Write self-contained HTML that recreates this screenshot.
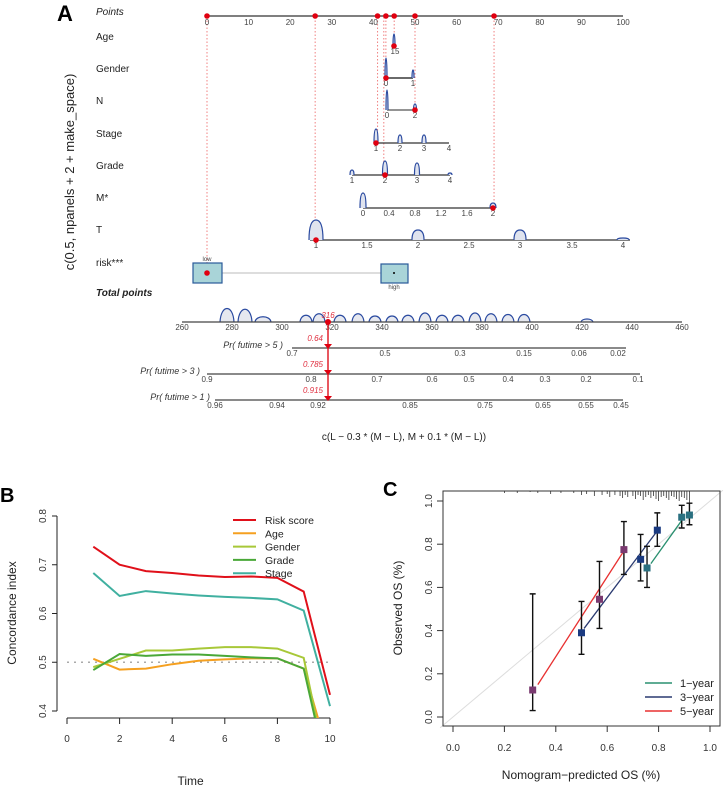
<!DOCTYPE html>
<html><head><meta charset="utf-8">
<style>
html,body{margin:0;padding:0;background:#fff;}
svg{display:block;font-family:"Liberation Sans",sans-serif;}
</style></head>
<body>
<svg id="fig" width="724" height="787" viewBox="0 0 724 787" xmlns="http://www.w3.org/2000/svg">
<defs>
<clipPath id="clipB"><rect x="57" y="500" width="290" height="218"/></clipPath>
</defs>
<g id="panelA"></g>
<g id="panelB"></g>
<g id="panelC"></g>
</svg>
<script>
// ---------- Panel B data ----------
const timeB = [1,2,3,4,5,6,7,8,9,10];
const riskScore = [0.737,0.700,0.687,0.683,0.678,0.675,0.676,0.673,0.645,0.433];
const ageC = [0.507,0.485,0.487,0.496,0.503,0.506,0.508,0.508,0.487,0.30];
const genderC = [0.490,0.507,0.524,0.524,0.528,0.531,0.531,0.528,0.509,0.25];
const gradeC = [0.484,0.517,0.513,0.516,0.516,0.513,0.510,0.508,0.487,0.25];
const stageC = [0.683,0.636,0.646,0.641,0.637,0.634,0.632,0.629,0.606,0.410];
const seriesNamesB = ["Risk score","Age","Gender","Grade","Stage"];
const xTicksB = [0,2,4,6,8,10];
const yTicksB = [0.4,0.5,0.6,0.7,0.8];

// ---------- Panel C data ----------
const pred1 = [0.755,0.89,0.92];
const obs1 = [0.69,0.925,0.935];
const lo1 = [0.60,0.875,0.89];
const hi1 = [0.79,0.98,0.99];
const pred3 = [0.50,0.73,0.795];
const obs3 = [0.39,0.73,0.865];
const lo3 = [0.29,0.63,0.79];
const hi3 = [0.535,0.845,0.945];
const pred5 = [0.31,0.57,0.665];
const obs5 = [0.125,0.545,0.775];
const lo5 = [0.03,0.41,0.66];
const hi5 = [0.57,0.72,0.905];
const fit1 = [[0.77,0.71],[0.89,0.91]];
const fit3 = [[0.51,0.41],[0.80,0.87]];
const fit5 = [[0.33,0.15],[0.66,0.76]];
const rugPred = [0.2,0.25,0.3,0.33,0.38,0.42,0.47,0.5,0.52,0.55,0.58,0.6,0.61,0.63,0.65,0.66,0.67,0.68,0.7,0.71,0.72,0.73,0.74,0.75,0.76,0.77,0.78,0.79,0.8,0.81,0.82,0.83,0.84,0.85,0.86,0.87,0.88,0.89,0.9,0.91,0.92];
const rugLen = [2,2,1,2,3,2,2,4,3,5,4,3,6,4,5,7,4,6,5,8,4,5,9,6,4,7,5,8,10,6,5,7,9,5,6,8,10,6,7,9,12];
const ticksC = [0,0.2,0.4,0.6,0.8,1.0];

// ---------- Panel A data ----------
const pointsTicks = [0,10,20,30,40,50,60,70,80,90,100];
const selectedPoints = [0,26,41,43,45,50,69];
const totalTicks = [260,280,300,320,340,360,380,400,420,440,460];
const totalValue = 316;

const NS = "http://www.w3.org/2000/svg";
function mk(parent, tag, attrs, txt){
  const e = document.createElementNS(NS, tag);
  for (const k in attrs) e.setAttribute(k, attrs[k]);
  if (txt !== undefined) e.textContent = txt;
  parent.appendChild(e);
  return e;
}

// ================= PANEL A =================
(function(){
  const g = document.getElementById('panelA');
  const px = p => 207 + p * 4.16;
  const tx = v => 182 + (v - 260) * 2.5;
  let el;
  el = mk(g,'text',{x:57,y:21,'font-size':22,'font-weight':'bold',fill:'#000'},'A');
  
  
  el = mk(g,'text',{x:0,y:0,'font-size':13,fill:'#222','text-anchor':'middle',transform:'translate(74,172) rotate(-90)'},'c(0.5, npanels + 2 + make_space)');
  
  
  const rows = [["Points",15,true,false],["Age",40],["Gender",72],["N",104],["Stage",137],["Grade",169],["M*",201],["T",233],["risk***",266],["Total points",296,false,true]];
  rows.forEach(r=>{
    const t = mk(g,'text',{x:96,y:r[1],'font-size':10,fill:'#222','font-style':(r[2]||r[3])?'italic':'normal','font-weight':r[3]?'bold':'normal'},r[0]);
    
    
  });
  const guides = [[0,270],[26,240],[41,143],[42.5,175],[43,78],[45,46],[50,110],[69,208]];
  guides.forEach(gd=>{
    const l = mk(g,'line',{x1:px(gd[0]),y1:17,x2:px(gd[0]),y2:gd[1],stroke:'#f08080','stroke-width':1,'stroke-dasharray':'1.5,2'});
    
    
  });
  el = mk(g,'line',{x1:px(0),y1:16,x2:px(100),y2:16,stroke:'#333','stroke-width':1.2});
  
  
  pointsTicks.forEach(p=>{
    const t = mk(g,'text',{x:px(p),y:25,'font-size':8,fill:'#444','text-anchor':'middle'},String(p));
    
    
  });
  selectedPoints.forEach(p=>{
    const c = mk(g,'circle',{cx:px(p),cy:16,r:2.8,fill:'#e00010'});
    
    
  });
  function axis(name,y,x1,x2,ticks,dens,col){
    const a = mk(g,'line',{x1:x1,y1:y,x2:x2,y2:y,stroke:col||'#333','stroke-width':1.2});
    
    
    ticks.forEach(tk=>{
      const t = mk(g,'text',{x:tk[0],y:y+8,'font-size':8,fill:'#444','text-anchor':'middle'},tk[1]);
      
      
    });
    dens.forEach(d=>{
      const p = mk(g,'path',{d:`M${d[0]-d[1]},${y} Q${d[0]-d[1]},${y-d[2]} ${d[0]},${y-d[2]} Q${d[0]+d[1]},${y-d[2]} ${d[0]+d[1]},${y}`,fill:'#dfe3ee',stroke:'#2a4aa0','stroke-width':1.2});
      
      
    });
  }
  axis('age',46,393,395,[[395,"15"]],[[394,1,12]]);
  axis('gender',78,386,413,[[386,"0"],[413,"1"]],[[386,1,20],[413,1,8]],'#111');
  axis('n',110,387,415,[[387,"0"],[415,"2"]],[[387,1,20],[415,1.5,6]],'#555');
  axis('stage',143,376,449,[[376,"1"],[400,"2"],[424,"3"],[449,"4"]],[[376,2,14],[400,2,8],[424,2,8]]);
  axis('grade',175,352,450,[[352,"1"],[385,"2"],[417,"3"],[450,"4"]],[[352,2,5],[385,2.5,14],[417,2.5,12],[450,2,2]]);
  axis('m',208,363,493,[[363,"0"],[389,"0.4"],[415,"0.8"],[441,"1.2"],[467,"1.6"],[493,"2"]],[[363,3,15],[493,3,5]]);
  axis('t',240,310,630,[[316,"1"],[367,"1.5"],[418,"2"],[469,"2.5"],[520,"3"],[572,"3.5"],[623,"4"]],[[316,7,20],[418,6,10],[520,6,10],[623,6,2]]);
  const pts = [[394,46],[386,78],[415,110],[376,143],[385,175],[493,208],[316,240]];
  pts.forEach(p=>{
    const c = mk(g,'circle',{cx:p[0],cy:p[1],r:2.8,fill:'#e00010'});
    
    
  });
  el = mk(g,'line',{x1:222,y1:273,x2:381,y2:273,stroke:'#bbb','stroke-width':1});
  
  
  el = mk(g,'rect',{x:193,y:263,width:29,height:20,fill:'#a9d4d8',stroke:'#2a5a9a','stroke-width':1.2});
  
  
  el = mk(g,'rect',{x:381,y:264,width:27,height:19,fill:'#a9d4d8',stroke:'#2a5a9a','stroke-width':1.2});
  
  
  el = mk(g,'circle',{cx:207,cy:273,r:2.8,fill:'#e00010'});
  
  
  el = mk(g,'circle',{cx:394,cy:273,r:1,fill:'#000'});
  
  
  el = mk(g,'text',{x:207,y:261,'font-size':6,fill:'#444','text-anchor':'middle'},'low');
  
  
  el = mk(g,'text',{x:394,y:289,'font-size':6,fill:'#444','text-anchor':'middle'},'high');
  
  
  const bumps = [[227,7,18],[245,7,17],[263,8,7],[306,6,9],[319,6,11],[340,6,9],[358,6,11],[375,6,8],[392,6,8],[408,6,9],[425,6,12],[442,6,9],[458,6,9],[475,6,12],[491,6,11],[508,6,10],[524,6,10],[587,6,4]];
  bumps.forEach(b=>{
    const p = mk(g,'path',{d:`M${b[0]-b[1]},322 C${b[0]-b[1]+1},${322-b[2]} ${b[0]+b[1]-1},${322-b[2]} ${b[0]+b[1]},322`,fill:'#e6e8ef',stroke:'#2a4aa0','stroke-width':1.2});
    
    
  });
  el = mk(g,'line',{x1:tx(260),y1:322,x2:tx(460),y2:322,stroke:'#444','stroke-width':1.2});
  
  
  totalTicks.forEach(v=>{
    const t = mk(g,'text',{x:tx(v),y:330,'font-size':8,fill:'#444','text-anchor':'middle'},String(v));
    
    
  });
  function prAxis(name,label,labX,y,x1,x2,ticks){
    const a = mk(g,'line',{x1:x1,y1:y,x2:x2,y2:y,stroke:'#444','stroke-width':1.2});
    
    
    const l = mk(g,'text',{x:labX,y:y,'font-size':9,fill:'#333','font-style':'italic','text-anchor':'end'},label);
    
    
    ticks.forEach(tk=>{
      const t = mk(g,'text',{x:tk[0],y:y+8,'font-size':8,fill:'#444','text-anchor':'middle'},tk[1]);
      
      
    });
  }
  prAxis('pr-5yr','Pr( futime > 5 )',283,348,292,626,[[292,"0.7"],[385,"0.5"],[460,"0.3"],[524,"0.15"],[579,"0.06"],[618,"0.02"]]);
  prAxis('pr-3yr','Pr( futime > 3 )',200,374,207,640,[[207,"0.9"],[311,"0.8"],[377,"0.7"],[432,"0.6"],[469,"0.5"],[508,"0.4"],[545,"0.3"],[586,"0.2"],[638,"0.1"]]);
  prAxis('pr-1yr','Pr( futime > 1 )',210,400,215,623,[[215,"0.96"],[277,"0.94"],[318,"0.92"],[410,"0.85"],[485,"0.75"],[543,"0.65"],[586,"0.55"],[621,"0.45"]]);
  const tX = tx(totalValue) + 6;
  el = mk(g,'line',{x1:tX,y1:322,x2:tX,y2:400,stroke:'#e0202a','stroke-width':1.5});
  
  
  el = mk(g,'circle',{cx:tX,cy:322,r:3,fill:'#e00010'});
  
  
  el = mk(g,'text',{x:tX,y:318,'font-size':8,fill:'#e03040','font-style':'italic','text-anchor':'middle'},String(totalValue));
  
  
  [[348,'0.64'],[374,'0.785'],[400,'0.915']].forEach(v=>{
    const tri = mk(g,'path',{d:`M${tX-4},${v[0]-4} L${tX+4},${v[0]-4} L${tX},${v[0]+1} Z`,fill:'#e00010'});
    
    
    const t = mk(g,'text',{x:tX-5,y:v[0]-7,'font-size':8,fill:'#e03040','font-style':'italic','text-anchor':'end'},v[1]);
    
    
  });
  el = mk(g,'text',{x:404,y:440,'font-size':10,fill:'#222','text-anchor':'middle'},'c(L \u2212 0.3 * (M \u2212 L), M + 0.1 * (M \u2212 L))');
  
  
})();

// ================= PANEL B =================
(function(){
  const g = document.getElementById('panelB');
  const xB = t => 67 + t * 26.3;
  const yB = v => 711 - (v - 0.4) * 487.5;
  let el;
  el = mk(g,'text',{x:0,y:502,'font-size':20,'font-weight':'bold',fill:'#000'},'B');
  
  
  el = mk(g,'line',{x1:57,y1:yB(0.8),x2:57,y2:yB(0.4),stroke:'#222','stroke-width':1});
  
  
  el = mk(g,'line',{x1:xB(0),y1:718,x2:xB(10),y2:718,stroke:'#222','stroke-width':1});
  
  
  yTicksB.forEach(v=>{
    const l = mk(g,'line',{x1:52,y1:yB(v),x2:57,y2:yB(v),stroke:'#222'});
    
    
    const t = mk(g,'text',{x:0,y:0,'font-size':10,fill:'#333','text-anchor':'middle',transform:`translate(46,${yB(v)}) rotate(-90)`},v.toFixed(1));
    
    
  });
  xTicksB.forEach(v=>{
    const l = mk(g,'line',{x1:xB(v),y1:718,x2:xB(v),y2:724,stroke:'#222'});
    
    
    const t = mk(g,'text',{x:xB(v),y:742,'font-size':10,fill:'#333','text-anchor':'middle'},String(v));
    
    
  });
  el = mk(g,'text',{x:xB(4.7),y:785,'font-size':12,fill:'#222','text-anchor':'middle'},'Time');
  
  
  el = mk(g,'text',{x:0,y:0,'font-size':12,fill:'#222','text-anchor':'middle',transform:'translate(16,613) rotate(-90)'},'Concordance index');
  
  
  el = mk(g,'line',{x1:xB(0),y1:yB(0.5),x2:xB(10),y2:yB(0.5),stroke:'#aaa','stroke-width':1.5,'stroke-dasharray':'2,5'});
  
  
  const data = [riskScore, ageC, genderC, gradeC, stageC];
  const cols = ['#e0101a','#f5a020','#a8c838','#4aa838','#40b0a0'];
  const order = [1,2,3,4,0];
  order.forEach(i=>{
    const d = timeB.map((t,j)=>(j?'L':'M')+xB(t)+','+yB(data[i][j])).join(' ');
    const p = mk(g,'path',{d:d,fill:'none',stroke:cols[i],'stroke-width':2,'clip-path':'url(#clipB)'});
    
    
  });
  seriesNamesB.forEach((n,i)=>{
    const y = 520 + i * 13.3;
    const l = mk(g,'line',{x1:233,y1:y,x2:256,y2:y,stroke:cols[i],'stroke-width':2});
    
    
    const t = mk(g,'text',{x:265,y:y+4,'font-size':10.5,fill:'#222'},n);
    
    
  });
})();

// ================= PANEL C =================
(function(){
  const g = document.getElementById('panelC');
  const xC = p => 453 + p * 257;
  const yC = o => 717 - o * 216;
  let el;
  el = mk(g,'text',{x:383,y:496,'font-size':20,'font-weight':'bold',fill:'#000'},'C');
  
  
  el = mk(g,'line',{x1:xC(-0.05),y1:yC(-0.05),x2:xC(1.05),y2:yC(1.05),stroke:'#ddd','stroke-width':1});
  
  
  el = mk(g,'rect',{x:443,y:491,width:277,height:235,fill:'none',stroke:'#333','stroke-width':1});
  
  
  rugPred.forEach((p,i)=>{
    const l = mk(g,'line',{x1:xC(p),y1:491,x2:xC(p),y2:491+rugLen[i],stroke:'#333','stroke-width':0.8});
    
    
  });
  ticksC.forEach(v=>{
    const l = mk(g,'line',{x1:xC(v),y1:726,x2:xC(v),y2:732,stroke:'#333'});
    
    
    const t = mk(g,'text',{x:xC(v),y:751,'font-size':10,fill:'#333','text-anchor':'middle'},v.toFixed(1));
    
    
    const l2 = mk(g,'line',{x1:437,y1:yC(v),x2:443,y2:yC(v),stroke:'#333'});
    
    
    const t2 = mk(g,'text',{x:0,y:0,'font-size':10,fill:'#333','text-anchor':'middle',transform:`translate(432,${yC(v)}) rotate(-90)`},v.toFixed(1));
    
    
  });
  el = mk(g,'text',{x:581,y:779,'font-size':12,fill:'#222','text-anchor':'middle'},'Nomogram\u2212predicted OS (%)');
  
  
  el = mk(g,'text',{x:0,y:0,'font-size':12,fill:'#222','text-anchor':'middle',transform:'translate(402,608) rotate(-90)'},'Observed OS (%)');
  
  
  const groups = [
    ['1-year','#2a9070','#2a7080',fit1,pred1,obs1,lo1,hi1],
    ['3-year','#2a3a70','#1a3a80',fit3,pred3,obs3,lo3,hi3],
    ['5-year','#e83030','#7a3a70',fit5,pred5,obs5,lo5,hi5]
  ];
  groups.forEach(gr=>{
    const f = gr[3];
    const l = mk(g,'line',{x1:xC(f[0][0]),y1:yC(f[0][1]),x2:xC(f[1][0]),y2:yC(f[1][1]),stroke:gr[1],'stroke-width':1.3});
    
    
  });
  groups.forEach(gr=>{
    gr[4].forEach((p,i)=>{
      const x = xC(p);
      const eb = mk(g,'path',{d:`M${x},${yC(gr[6][i])} L${x},${yC(gr[7][i])} M${x-3},${yC(gr[6][i])} L${x+3},${yC(gr[6][i])} M${x-3},${yC(gr[7][i])} L${x+3},${yC(gr[7][i])}`,stroke:'#111','stroke-width':1.4,fill:'none'});
      
      
      const r = mk(g,'rect',{x:x-3.5,y:yC(gr[5][i])-3.5,width:7,height:7,fill:gr[2]});
      
      
    });
  });
  groups.forEach((gr,i)=>{
    const y = 683 + i * 14;
    const l = mk(g,'line',{x1:645,y1:y,x2:672,y2:y,stroke:gr[1],'stroke-width':1.5});
    
    
    const t = mk(g,'text',{x:680,y:y+4,'font-size':11,fill:'#222'},gr[0].replace('-','\u2212'));
    
    
  });
})();
</script>
</body></html>
